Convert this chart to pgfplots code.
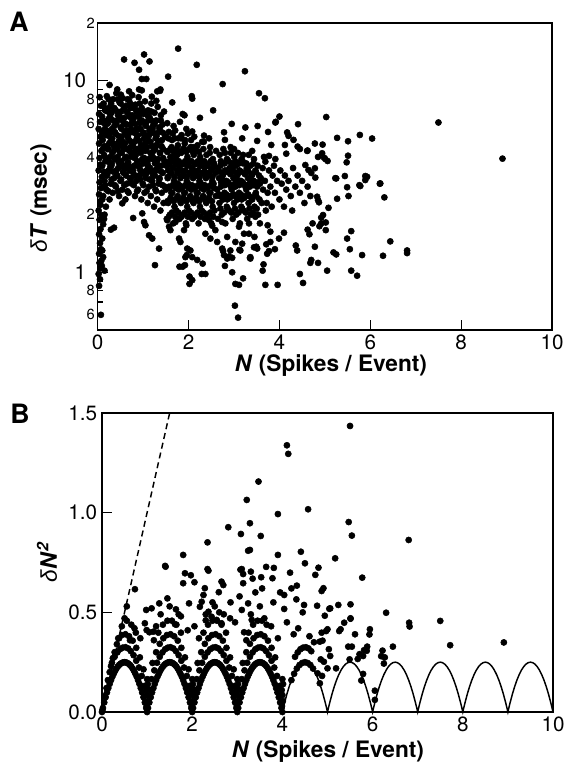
\documentclass[border=0pt]{standalone}
\usepackage{pgfplots}
\pgfplotsset{compat=1.18}
\usepackage{fontspec}
\setmainfont{TeX Gyre Heros}
\newfontfamily\grk{Liberation Sans}
\newcommand{\tickfont}{\fontsize{15.5}{18}\selectfont}
\newcommand{\smallfont}{\fontsize{11}{13}\selectfont}
\newcommand{\labfont}{\fontsize{17}{20}\selectfont\bfseries}
\pgfplotsset{
  common/.style={
    scale only axis, clip=false,
    axis line style={line width=1.1pt},
    tick style={line width=0.9pt, black},
    tick align=inside, tick pos=left,
    major tick length=7.5pt, minor tick length=3.75pt,
    tick label style={font=\tickfont},
    /pgf/number format/assume math mode=true,
  },
  dots/.style={only marks, mark=*, mark size=2.3pt, black},
}
\begin{document}
\begin{tikzpicture}
% ---------------- Panel A ----------------
\begin{axis}[common,
  at={(-3.2pt,286.5pt)}, anchor=south west,
  width=340.7pt, height=230.25pt,
  xmin=0, xmax=10, ymode=log, ymin=0.5, ymax=20,
  xtick={0,2,4,6,8,10}, xticklabels={0,2,4,6,8,10},
  ytick={1,10}, yticklabels={1,10},
  yticklabel style={inner sep=8.5pt},
  minor ytick={0.6,0.7,0.8,0.9,2,3,4,5,6,7,8,9},
  extra y ticks={0.6,0.8,2,4,6,8,20},
  extra y tick labels={6,8,2,4,6,8,2},
  extra y tick style={major tick length=3.75pt, yticklabel style={font=\smallfont, inner sep=2pt}},
]
\addplot[dots] coordinates {
(3.24,11.2)(2.75,9.6)(3.55,8.6)(3.68,8.1)(2.54,7.0)(5.03,6.46)(7.5,6.05)(8.91,3.92)(4.0,6.5)(3.92,6.1)(4.41,5.93)(2.95,5.95)(3.25,5.7)(3.52,5.8)(5.27,5.03)(5.51,4.83)(5.77,5.21)(6.04,4.99)(5.51,4.06)(5.48,3.75)(3.75,5.4)(4.17,5.37)(4.2,5.15)(4.31,4.91)(3.82,4.62)(4.12,4.62)(4.40,4.53)(4.45,4.4)(4.78,4.7)(4.95,4.64)(4.61,4.3)(4.85,4.0)(5.01,3.9)(5.23,3.1)(5.44,3.18)(5.76,2.85)(5.89,3.18)(6.21,2.9)(6.31,2.46)(5.52,2.5)(5.27,2.42)
(3.91,6.05)(3.51,4.85)(4.62,4.32)(4.15,4.16)(4.94,4.18)(4.98,3.97)(5.06,3.81)(3.69,3.78)(3.91,3.9)(3.77,4.05)(3.66,4.0)(4.78,3.49)(4.64,3.42)(4.57,3.63)(4.79,3.12)(5.25,3.09)(5.93,3.15)(5.89,3.03)(6.22,2.91)(5.78,2.82)(5.49,2.78)
(4.83,2.48)(4.85,2.38)(4.87,2.32)(5.08,2.17)(4.96,1.99)(4.92,1.93)(5.02,1.82)(4.92,1.8)(4.88,1.74)(4.73,1.8)(4.62,1.67)(4.66,1.58)(5.02,1.66)
(5.58,1.64)(5.49,1.5)(5.55,1.32)(5.82,1.23)(6.28,1.22)(6.44,1.45)(6.81,1.30)(6.81,1.26)
(5.19,1.27)(5.25,1.24)(4.68,1.12)(4.70,1.16)(4.85,1.12)(5.05,1.02)(5.58,1.02)(5.71,0.96)
(4.36,1.38)(4.39,1.30)(4.78,1.36)(4.45,0.98)(4.52,0.88)
(3.65,1.1)(3.63,1.02)(3.69,0.86)(3.96,0.86)
(3.49,1.36)(3.71,1.40)(3.73,1.25)(3.77,1.29)(3.9,1.32)(4.1,1.61)(3.99,1.50)
(3.36,1.20)(3.51,1.33)(3.45,1.53)(3.80,1.63)(3.80,1.44)(3.74,1.76)(3.57,1.80)(3.47,1.95)
(0.07,0.60)(1.26,1.09)(1.8,1.07)(1.87,1.07)(1.92,1.09)(2.02,0.95)(2.08,0.91)(2.02,0.87)(2.29,0.98)(2.37,0.98)(2.19,1.16)(2.31,1.11)(1.96,1.23)
(3.02,0.67)(3.09,0.58)(3.03,0.87)(3.11,0.86)(3.2,0.93)(2.8,1.08)(2.96,1.0)(2.76,1.29)(2.89,1.21)(2.96,1.19)(3.12,1.31)(3.35,1.19)(3.44,1.35)
(0.78,1.92)(0.98,2.03)(1.02,1.83)(1.05,1.76)(1.13,1.56)(1.2,1.5)(1.35,1.33)(0.29,1.67)(0.36,1.71)(0.54,2.29)
(1.53,1.87)(1.57,1.73)(1.6,1.66)(1.71,1.83)(1.79,1.50)(1.82,1.44)(1.9,1.66)(1.95,1.76)(1.97,1.33)(2.04,1.30)(2.08,1.20)(1.93,1.20)
(2.45,1.87)(2.52,1.75)(2.59,1.66)(2.37,1.59)(2.48,1.50)(2.63,1.44)(2.74,1.33)(2.78,1.23)(2.85,1.18)(2.92,1.30)(3.03,1.44)(3.14,1.30)(3.18,1.41)(3.33,1.59)(3.36,1.18)(3.22,1.59)(3.11,1.73)(3.33,1.80)(2.74,1.83)(2.85,1.53)
(1.77,14.7)(1.02,13.7)(1.14,12.6)(0.81,12.4)(0.91,11.4)(0.58,12.9)(2.18,12.1)
(0.97,10.2)(1.07,10.2)(1.55,10.5)(1.38,9.0)(1.31,8.8)(1.64,7.7)(2.07,8.3)(2.08,8.06)(2.25,6.4)(1.91,6.6)(1.87,6.7)
(2.78,5.38)(3.18,5.0)(2.8,4.91)(2.34,5.17)(2.08,5.43)
(0.26,9.5)(0.43,9.0)(0.51,8.45)(0.69,8.8)(0.91,9.0)(0.97,8.9)(1.19,8.25)(1.29,7.85)(1.37,8.85)
(0.15,1.02)(0.12,1.2)(0.08,1.15)
(0.03,0.85)(0.05,0.92)(0.02,0.98)(0.06,1.05)(0.04,1.12)(0.09,1.08)(0.03,1.25)(0.07,1.32)(0.05,1.42)(0.1,1.5)(0.03,1.58)(0.06,1.68)(0.12,1.78)(0.04,1.88)(0.08,1.98)(0.02,2.1)(0.06,2.25)(0.1,2.4)(0.03,2.55)(0.07,2.75)(0.04,2.95)(0.09,3.15)(0.02,3.4)(0.06,3.65)(0.04,3.95)(0.08,4.3)(0.03,4.7)(0.06,5.1)(0.02,5.6)(0.05,6.1)(0.03,6.7)(0.07,7.4)(0.04,8.2)(0.1,1.3)(0.14,1.9)(0.18,2.2)(0.15,2.0)
(0.12,2.5)(0.15,3.0)(0.10,3.6)(0.14,4.1)(0.11,4.9)(0.155,5.6)(0.095,6.5)(0.13,7.6)
(0.19,2.7)(0.22,3.3)(0.17,3.8)(0.21,4.5)(0.18,5.2)(0.225,6.0)(0.165,7.0)(0.20,8.3)
(0.26,2.4)(0.29,2.9)(0.24,3.4)(0.28,4.0)(0.25,4.7)(0.295,5.4)(0.235,6.3)(0.27,7.3)
(0.33,2.6)(0.36,3.1)(0.31,3.7)(0.35,4.3)(0.32,5.0)(0.365,5.8)(0.305,6.8)(0.34,8.0)
(0.40,2.8)(0.43,3.2)(0.38,3.9)(0.42,4.6)(0.39,5.3)(0.435,6.2)(0.375,7.1)(0.41,8.6)
(0.47,2.5)(0.50,3.0)(0.45,3.5)(0.49,4.2)(0.46,4.8)(0.505,5.7)(0.445,6.6)(0.48,7.7)
(0.54,2.7)(0.57,3.3)(0.52,3.8)(0.56,4.4)(0.53,5.1)(0.575,6.0)(0.515,6.9)(0.55,8.1)
(0.61,2.4)(0.64,2.9)(0.59,3.5)(0.63,4.0)(0.60,4.7)(0.645,5.5)(0.585,6.4)(0.62,7.4)
(0.68,2.6)(0.71,3.1)(0.66,3.7)(0.70,4.3)(0.67,5.0)(0.715,5.9)(0.655,6.8)(0.69,7.9)
(0.75,2.9)(0.78,3.4)(0.73,4.0)(0.77,4.6)(0.74,5.4)(0.785,6.3)(0.725,7.2)(0.76,8.4)
(0.82,2.5)(0.85,3.0)(0.80,3.6)(0.84,4.1)(0.81,4.8)(0.855,5.6)(0.795,6.5)(0.83,7.5)
(0.89,2.7)(0.92,3.2)(0.87,3.8)(0.91,4.4)(0.88,5.2)(0.925,6.0)(0.865,7.0)(0.90,8.2)
(0.96,2.4)(0.99,2.9)(0.94,3.4)(0.98,3.9)(0.95,4.6)(0.995,5.3)(0.935,6.2)(0.97,7.2)
(1.03,2.6)(1.06,3.1)(1.01,3.7)(1.05,4.3)(1.02,5.0)(1.065,5.8)(1.005,6.7)(1.04,7.8)
(1.10,2.3)(1.13,2.8)(1.08,3.3)(1.12,3.9)(1.09,4.5)(1.135,5.2)(1.075,6.1)(1.11,7.0)
(1.17,2.5)(1.20,3.0)(1.15,3.5)(1.19,4.1)(1.16,4.8)(1.205,5.6)(1.145,6.4)(1.18,7.6)
(1.24,2.2)(1.27,2.7)(1.22,3.2)(1.26,3.7)(1.23,4.3)(1.275,5.0)(1.215,5.8)(1.25,6.8)
(1.31,2.4)(1.34,2.9)(1.29,3.4)(1.33,3.9)(1.30,4.6)(1.345,5.4)(1.285,6.2)(1.32,7.3)
(1.38,2.1)(1.41,2.6)(1.36,3.1)(1.40,3.6)(1.37,4.2)(1.415,4.9)(1.355,5.7)(1.39,6.6)
(1.45,2.3)(1.48,2.8)(1.43,3.3)(1.47,3.8)(1.44,4.4)(1.485,5.1)(1.425,5.9)(1.46,6.9)
(0.16,3.3)(0.23,4.4)(0.3,3.6)(0.37,5.4)(0.44,4.0)(0.51,4.6)(0.58,3.6)(0.65,5.2)(0.72,4.5)(0.79,3.2)(0.86,5.0)(0.93,3.6)(1.0,4.4)(1.07,3.4)(1.14,5.5)(1.21,3.9)(1.28,4.6)(0.2,5.5)(0.27,6.8)(0.34,4.7)(0.41,3.4)(0.48,6.4)(0.55,4.8)(0.62,5.9)(0.69,3.4)(0.76,6.6)(0.83,4.3)(0.9,5.6)(0.97,6.8)(1.04,4.7)(1.11,3.6)(1.18,6.9)(1.25,3.4)(0.14,6.0)(0.09,5.4)(0.11,4.4)(0.08,3.6)(0.13,2.8)(0.06,2.35)(0.17,7.0)
(0.165,2.85)(0.135,3.35)(0.18,3.95)(0.145,4.55)(0.175,5.35)(0.13,6.2)(0.155,7.2)
(0.235,2.65)(0.205,3.2)(0.25,3.75)(0.215,4.4)(0.245,5.15)(0.2,5.95)(0.225,6.9)(0.24,8.0)
(0.305,3.05)(0.275,3.55)(0.32,4.2)(0.285,4.85)(0.315,5.6)(0.27,6.5)(0.295,7.6)
(0.375,2.85)(0.345,3.35)(0.39,3.95)(0.355,4.55)(0.385,5.35)(0.34,6.2)(0.365,7.2)
(0.445,2.65)(0.415,3.2)(0.46,3.75)(0.425,4.4)(0.455,5.15)(0.41,5.95)(0.435,6.9)(0.45,8.0)
(0.515,3.05)(0.485,3.55)(0.53,4.2)(0.495,4.85)(0.525,5.6)(0.48,6.5)(0.505,7.6)
(0.585,2.85)(0.555,3.35)(0.6,3.95)(0.565,4.55)(0.595,5.35)(0.55,6.2)(0.575,7.2)
(0.655,2.65)(0.625,3.2)(0.67,3.75)(0.635,4.4)(0.665,5.15)(0.62,5.95)(0.645,6.9)(0.66,8.0)
(0.725,3.05)(0.695,3.55)(0.74,4.2)(0.705,4.85)(0.735,5.6)(0.69,6.5)(0.715,7.6)
(0.795,2.85)(0.765,3.35)(0.81,3.95)(0.775,4.55)(0.805,5.35)(0.76,6.2)(0.785,7.2)
(0.865,2.65)(0.835,3.2)(0.88,3.75)(0.845,4.4)(0.875,5.15)(0.83,5.95)(0.855,6.9)
(0.935,3.05)(0.905,3.55)(0.95,4.2)(0.915,4.85)(0.945,5.6)(0.9,6.5)(0.925,7.6)
(1.005,2.85)(0.975,3.35)(1.02,3.95)(0.985,4.55)(1.015,5.35)(0.97,6.2)
(1.075,2.65)(1.045,3.2)(1.09,3.75)(1.055,4.4)(1.085,5.15)(1.04,5.95)(1.065,6.9)
(1.145,3.05)(1.115,3.55)(1.16,4.2)(1.125,4.85)(1.155,5.6)(1.11,6.5)
(1.215,2.85)(1.185,3.35)(1.23,3.95)(1.195,4.55)(1.225,5.35)(1.18,6.2)
(1.285,2.65)(1.255,3.2)(1.3,3.75)(1.265,4.4)(1.295,5.15)(1.25,5.95)
(1.355,3.05)(1.325,3.55)(1.37,4.2)(1.335,4.85)(1.365,5.6)
(1.425,2.85)(1.395,3.35)(1.44,3.95)(1.405,4.55)(1.435,5.35)(1.39,6.2)
(1.52,1.9)(1.55,2.3)(1.50,2.7)(1.54,3.1)(1.51,3.6)(1.555,4.3)(1.495,5.1)(1.53,6.0)
(1.59,2.0)(1.62,2.4)(1.57,2.8)(1.61,3.3)(1.58,3.8)(1.625,4.5)(1.565,5.4)
(1.66,1.8)(1.69,2.2)(1.64,2.6)(1.68,3.0)(1.65,3.5)(1.695,4.1)(1.635,4.9)(1.67,5.8)
(1.73,2.1)(1.76,2.5)(1.71,2.9)(1.75,3.4)(1.72,3.9)(1.765,4.6)(1.705,5.5)
(1.80,1.9)(1.83,2.3)(1.78,2.7)(1.82,3.1)(1.79,3.6)(1.835,4.2)(1.775,5.0)(1.81,6.1)
(1.87,2.0)(1.90,2.4)(1.85,2.8)(1.89,3.2)(1.86,3.7)(1.905,4.4)(1.845,5.2)
(1.94,1.8)(1.97,2.2)(1.92,2.6)(1.96,3.0)(1.93,3.4)(1.975,4.0)(1.915,4.7)(1.95,5.6)
(2.01,2.1)(2.04,2.5)(1.99,2.9)(2.03,3.3)(2.00,3.8)(2.045,4.5)(1.985,5.3)
(2.08,1.9)(2.11,2.3)(2.06,2.7)(2.10,3.1)(2.07,3.5)(2.115,4.1)(2.055,4.9)
(2.15,2.0)(2.18,2.4)(2.13,2.8)(2.17,3.2)(2.14,3.7)(2.185,4.3)(2.125,5.1)
(2.22,1.8)(2.25,2.2)(2.20,2.6)(2.24,3.0)(2.21,3.4)(2.255,4.0)(2.195,4.6)
(2.29,2.1)(2.32,2.5)(2.27,2.9)(2.31,3.3)(2.28,3.8)(2.325,4.4)
(2.36,1.9)(2.39,2.3)(2.34,2.7)(2.38,3.1)(2.35,3.5)(2.395,4.1)(2.335,4.8)
(2.43,2.0)(2.46,2.4)(2.41,2.8)(2.45,3.2)(2.42,3.6)(2.465,4.2)
(2.50,1.8)(2.53,2.2)(2.48,2.6)(2.52,3.0)(2.49,3.4)(2.535,3.9)(2.475,4.5)
(2.57,2.1)(2.60,2.5)(2.55,2.9)(2.59,3.3)(2.56,3.7)(2.605,4.3)
(1.55,3.4)(1.62,2.6)(1.69,3.8)(1.76,2.9)(1.83,3.4)(1.9,2.6)(1.97,3.6)(2.04,2.8)(2.11,3.4)(2.18,2.6)(2.25,3.6)(2.32,2.8)(2.39,3.3)(2.46,2.6)(2.53,3.5)(1.6,4.0)(1.75,4.1)(1.92,4.9)(2.1,4.5)(2.3,4.8)(2.45,5.0)(1.65,5.3)
(1.565,1.95)(1.535,2.35)(1.58,2.75)(1.545,3.15)(1.575,3.65)(1.53,4.25)(1.555,5.0)
(1.635,2.05)(1.605,2.45)(1.65,2.85)(1.615,3.3)(1.645,3.8)(1.6,4.4)
(1.705,1.95)(1.675,2.35)(1.72,2.75)(1.685,3.15)(1.715,3.65)(1.67,4.25)(1.695,5.0)
(1.775,2.05)(1.745,2.45)(1.79,2.85)(1.755,3.3)(1.785,3.8)(1.74,4.4)
(1.845,1.95)(1.815,2.35)(1.86,2.75)(1.825,3.15)(1.855,3.65)(1.81,4.25)(1.835,5.0)
(1.915,2.05)(1.885,2.45)(1.93,2.85)(1.895,3.3)(1.925,3.8)(1.88,4.4)
(1.985,1.95)(1.955,2.35)(2.0,2.75)(1.965,3.15)(1.995,3.65)(1.95,4.25)
(2.055,2.05)(2.025,2.45)(2.07,2.85)(2.035,3.3)(2.065,3.8)(2.02,4.4)
(2.125,1.95)(2.095,2.35)(2.14,2.75)(2.105,3.15)(2.135,3.65)(2.09,4.25)
(2.195,2.05)(2.165,2.45)(2.21,2.85)(2.175,3.3)(2.205,3.8)
(2.265,1.95)(2.235,2.35)(2.28,2.75)(2.245,3.15)(2.275,3.65)(2.23,4.25)
(2.335,2.05)(2.305,2.45)(2.35,2.85)(2.315,3.3)(2.345,3.8)
(2.405,1.95)(2.375,2.35)(2.42,2.75)(2.385,3.15)(2.415,3.65)
(2.475,2.05)(2.445,2.45)(2.49,2.85)(2.455,3.3)(2.485,3.8)
(2.545,1.95)(2.515,2.35)(2.56,2.75)(2.525,3.15)(2.555,3.65)
(2.65,1.9)(2.68,2.3)(2.63,2.7)(2.67,3.1)(2.64,3.5)(2.685,4.1)
(2.73,2.0)(2.76,2.4)(2.71,2.8)(2.75,3.2)(2.72,3.7)(2.765,4.4)
(2.81,1.8)(2.84,2.2)(2.79,2.6)(2.83,3.0)(2.80,3.4)(2.845,3.9)
(2.89,2.1)(2.92,2.5)(2.87,2.9)(2.91,3.3)(2.88,3.8)(2.925,4.5)
(2.97,1.9)(3.00,2.3)(2.95,2.7)(2.99,3.1)(2.96,3.5)(3.005,4.0)
(3.05,2.0)(3.08,2.4)(3.03,2.8)(3.07,3.2)(3.04,3.6)(3.085,4.2)
(3.13,1.8)(3.16,2.2)(3.11,2.6)(3.15,3.0)(3.12,3.4)(3.165,3.9)
(3.21,2.1)(3.24,2.5)(3.19,2.9)(3.23,3.3)(3.20,3.7)
(3.29,1.9)(3.32,2.3)(3.27,2.7)(3.31,3.1)(3.28,3.5)(3.325,4.1)
(3.37,2.0)(3.40,2.4)(3.35,2.8)(3.39,3.2)(3.36,3.6)
(3.45,2.2)(3.48,2.6)(3.43,3.0)(3.47,3.4)(3.44,3.9)
(3.53,2.0)(3.56,2.4)(3.51,2.8)(3.55,3.2)(3.52,3.6)
(3.61,2.3)(3.64,2.7)(3.59,3.1)(3.63,3.5)
(2.69,2.5)(2.77,3.0)(2.85,2.4)(2.93,2.8)(3.01,2.5)(3.09,3.0)(3.17,2.4)(3.25,2.8)(3.33,2.5)(3.41,3.0)(3.49,2.5)(3.57,2.9)(2.7,3.6)(2.9,3.5)(3.1,3.7)(3.3,3.4)(2.8,4.2)(3.0,4.4)(3.2,4.1)(3.4,4.3)
(2.70,2.15)(2.67,2.55)(2.715,2.95)(2.68,3.35)(2.71,3.8)
(2.78,2.05)(2.75,2.45)(2.795,2.85)(2.76,3.25)(2.79,3.7)
(2.86,2.15)(2.83,2.55)(2.875,2.95)(2.84,3.35)(2.87,3.8)
(2.94,2.05)(2.91,2.45)(2.955,2.85)(2.92,3.25)(2.95,3.7)(2.93,4.2)
(3.02,2.15)(2.99,2.55)(3.035,2.95)(3.0,3.35)(3.03,3.8)
(3.10,2.05)(3.07,2.45)(3.115,2.85)(3.08,3.25)(3.11,3.7)
(3.18,2.15)(3.15,2.55)(3.195,2.95)(3.16,3.35)(3.19,3.8)
(3.26,2.05)(3.23,2.45)(3.275,2.85)(3.24,3.25)(3.27,3.7)
(3.34,2.15)(3.31,2.55)(3.355,2.95)(3.32,3.35)
(3.42,2.05)(3.39,2.45)(3.435,2.85)(3.40,3.25)(3.43,3.7)
(3.50,2.15)(3.47,2.55)(3.515,2.95)(3.48,3.35)
(3.70,2.1)(3.74,2.6)(3.68,3.0)(3.77,3.4)(3.72,2.3)(3.80,2.8)(3.85,3.2)(3.83,2.2)(3.90,2.6)(3.95,3.0)(3.88,3.6)(4.00,2.4)(4.05,2.9)(4.02,3.4)(4.10,2.2)(4.15,2.7)(4.12,3.2)(4.20,3.0)(4.25,2.5)(4.30,3.5)(4.35,2.8)(4.28,2.1)(4.40,3.2)(4.45,2.6)(4.50,3.0)(4.55,2.3)(4.62,2.8)(4.70,3.3)(4.68,2.5)
};
\end{axis}
% ---------------- Panel B ----------------
\begin{axis}[common,
  at={(0pt,0pt)}, anchor=south west,
  width=338.25pt, height=224.25pt,
  xmin=0, xmax=10, ymin=0, ymax=1.5,
  xtick={0,2,4,6,8,10}, xticklabels={0,2,4,6,8,10},
  xtick style={draw=none},
  ytick={0,0.5,1,1.5}, yticklabels={0.0,0.5,1.0,1.5},
  yticklabel style={inner sep=3.5pt},
]
\addplot[black, line width=1.1pt, dash pattern=on 4.5pt off 3pt] coordinates {(0,0)(1.5,1.5)};
\addplot[black, line width=1.1pt] coordinates {
(0,0)(0.02,0.0196)(0.05,0.0475)(0.1,0.09)(0.15,0.1275)(0.2,0.16)(0.25,0.1875)(0.3,0.21)(0.35,0.2275)(0.4,0.24)(0.45,0.2475)(0.5,0.25)(0.55,0.2475)(0.6,0.24)(0.65,0.2275)(0.7,0.21)(0.75,0.1875)(0.8,0.16)(0.85,0.1275)(0.9,0.09)(0.95,0.0475)(0.98,0.0196)
(1,0)(1.02,0.0196)(1.05,0.0475)(1.1,0.09)(1.15,0.1275)(1.2,0.16)(1.25,0.1875)(1.3,0.21)(1.35,0.2275)(1.4,0.24)(1.45,0.2475)(1.5,0.25)(1.55,0.2475)(1.6,0.24)(1.65,0.2275)(1.7,0.21)(1.75,0.1875)(1.8,0.16)(1.85,0.1275)(1.9,0.09)(1.95,0.0475)(1.98,0.0196)
(2,0)(2.02,0.0196)(2.05,0.0475)(2.1,0.09)(2.15,0.1275)(2.2,0.16)(2.25,0.1875)(2.3,0.21)(2.35,0.2275)(2.4,0.24)(2.45,0.2475)(2.5,0.25)(2.55,0.2475)(2.6,0.24)(2.65,0.2275)(2.7,0.21)(2.75,0.1875)(2.8,0.16)(2.85,0.1275)(2.9,0.09)(2.95,0.0475)(2.98,0.0196)
(3,0)(3.02,0.0196)(3.05,0.0475)(3.1,0.09)(3.15,0.1275)(3.2,0.16)(3.25,0.1875)(3.3,0.21)(3.35,0.2275)(3.4,0.24)(3.45,0.2475)(3.5,0.25)(3.55,0.2475)(3.6,0.24)(3.65,0.2275)(3.7,0.21)(3.75,0.1875)(3.8,0.16)(3.85,0.1275)(3.9,0.09)(3.95,0.0475)(3.98,0.0196)
(4,0)(4.02,0.0196)(4.05,0.0475)(4.1,0.09)(4.15,0.1275)(4.2,0.16)(4.25,0.1875)(4.3,0.21)(4.35,0.2275)(4.4,0.24)(4.45,0.2475)(4.5,0.25)(4.55,0.2475)(4.6,0.24)(4.65,0.2275)(4.7,0.21)(4.75,0.1875)(4.8,0.16)(4.85,0.1275)(4.9,0.09)(4.95,0.0475)(4.98,0.0196)
(5,0)(5.02,0.0196)(5.05,0.0475)(5.1,0.09)(5.15,0.1275)(5.2,0.16)(5.25,0.1875)(5.3,0.21)(5.35,0.2275)(5.4,0.24)(5.45,0.2475)(5.5,0.25)(5.55,0.2475)(5.6,0.24)(5.65,0.2275)(5.7,0.21)(5.75,0.1875)(5.8,0.16)(5.85,0.1275)(5.9,0.09)(5.95,0.0475)(5.98,0.0196)
(6,0)(6.02,0.0196)(6.05,0.0475)(6.1,0.09)(6.15,0.1275)(6.2,0.16)(6.25,0.1875)(6.3,0.21)(6.35,0.2275)(6.4,0.24)(6.45,0.2475)(6.5,0.25)(6.55,0.2475)(6.6,0.24)(6.65,0.2275)(6.7,0.21)(6.75,0.1875)(6.8,0.16)(6.85,0.1275)(6.9,0.09)(6.95,0.0475)(6.98,0.0196)
(7,0)(7.02,0.0196)(7.05,0.0475)(7.1,0.09)(7.15,0.1275)(7.2,0.16)(7.25,0.1875)(7.3,0.21)(7.35,0.2275)(7.4,0.24)(7.45,0.2475)(7.5,0.25)(7.55,0.2475)(7.6,0.24)(7.65,0.2275)(7.7,0.21)(7.75,0.1875)(7.8,0.16)(7.85,0.1275)(7.9,0.09)(7.95,0.0475)(7.98,0.0196)
(8,0)(8.02,0.0196)(8.05,0.0475)(8.1,0.09)(8.15,0.1275)(8.2,0.16)(8.25,0.1875)(8.3,0.21)(8.35,0.2275)(8.4,0.24)(8.45,0.2475)(8.5,0.25)(8.55,0.2475)(8.6,0.24)(8.65,0.2275)(8.7,0.21)(8.75,0.1875)(8.8,0.16)(8.85,0.1275)(8.9,0.09)(8.95,0.0475)(8.98,0.0196)
(9,0)(9.02,0.0196)(9.05,0.0475)(9.1,0.09)(9.15,0.1275)(9.2,0.16)(9.25,0.1875)(9.3,0.21)(9.35,0.2275)(9.4,0.24)(9.45,0.2475)(9.5,0.25)(9.55,0.2475)(9.6,0.24)(9.65,0.2275)(9.7,0.21)(9.75,0.1875)(9.8,0.16)(9.85,0.1275)(9.9,0.09)(9.95,0.0475)(9.98,0.0196)
(10,0)
};
\addplot[dots] coordinates {
(0.02,0.02)(0.05,0.048)(0.08,0.074)(0.11,0.098)(0.14,0.12)(0.17,0.141)(0.2,0.16)(0.23,0.177)(0.26,0.192)(0.29,0.206)(0.32,0.218)(0.35,0.228)(0.38,0.236)(0.41,0.242)(0.44,0.246)(0.47,0.249)(0.5,0.25)(0.53,0.249)(0.56,0.246)(0.59,0.242)(0.62,0.236)(0.65,0.228)(0.68,0.218)(0.71,0.206)(0.74,0.192)(0.77,0.177)(0.8,0.16)(0.83,0.141)(0.86,0.12)(0.89,0.098)(0.92,0.074)(0.95,0.048)(0.98,0.02)
(1.02,0.02)(1.05,0.048)(1.08,0.074)(1.11,0.098)(1.14,0.12)(1.17,0.141)(1.2,0.16)(1.23,0.177)(1.26,0.192)(1.29,0.206)(1.32,0.218)(1.35,0.228)(1.38,0.236)(1.41,0.242)(1.44,0.246)(1.47,0.249)(1.5,0.25)(1.53,0.249)(1.56,0.246)(1.59,0.242)(1.62,0.236)(1.65,0.228)(1.68,0.218)(1.71,0.206)(1.74,0.192)(1.77,0.177)(1.8,0.16)(1.83,0.141)(1.86,0.12)(1.89,0.098)(1.92,0.074)(1.95,0.048)(1.98,0.02)
(2.02,0.02)(2.05,0.048)(2.08,0.074)(2.11,0.098)(2.14,0.12)(2.17,0.141)(2.2,0.16)(2.23,0.177)(2.26,0.192)(2.29,0.206)(2.32,0.218)(2.35,0.228)(2.38,0.236)(2.41,0.242)(2.44,0.246)(2.47,0.249)(2.5,0.25)(2.53,0.249)(2.56,0.246)(2.59,0.242)(2.62,0.236)(2.65,0.228)(2.68,0.218)(2.71,0.206)(2.74,0.192)(2.77,0.177)(2.8,0.16)(2.83,0.141)(2.86,0.12)(2.89,0.098)(2.92,0.074)(2.95,0.048)(2.98,0.02)
(3.02,0.02)(3.05,0.048)(3.08,0.074)(3.11,0.098)(3.14,0.12)(3.17,0.141)(3.2,0.16)(3.23,0.177)(3.26,0.192)(3.29,0.206)(3.32,0.218)(3.35,0.228)(3.38,0.236)(3.41,0.242)(3.44,0.246)(3.47,0.249)(3.5,0.25)(3.53,0.249)(3.56,0.246)(3.59,0.242)(3.62,0.236)(3.65,0.228)(3.68,0.218)(3.71,0.206)(3.74,0.192)(3.77,0.177)(3.8,0.16)(3.83,0.141)(3.86,0.12)(3.89,0.098)(3.92,0.074)(3.95,0.048)(3.98,0.02)
(4.2,0.16)(4.26,0.192)(4.32,0.218)(4.38,0.236)(4.44,0.246)(4.5,0.25)(4.56,0.246)(4.62,0.236)(4.68,0.218)
(0.22,0.247)(0.28,0.277)(0.34,0.299)(0.4,0.315)(0.46,0.323)(0.52,0.325)(0.58,0.319)(0.64,0.305)(0.7,0.285)(0.76,0.257)(0.82,0.223)(0.88,0.181)(0.94,0.131)
(1.04,0.113)(1.1,0.165)(1.16,0.209)(1.22,0.247)(1.28,0.277)(1.34,0.299)(1.4,0.315)(1.46,0.323)(1.52,0.325)(1.58,0.319)(1.64,0.305)(1.7,0.285)(1.76,0.257)(1.82,0.223)(1.88,0.181)(1.94,0.131)
(2.04,0.113)(2.1,0.165)(2.16,0.209)(2.22,0.247)(2.28,0.277)(2.34,0.299)(2.4,0.315)(2.46,0.323)(2.52,0.325)(2.58,0.319)(2.64,0.305)(2.7,0.285)(2.76,0.257)(2.82,0.223)(2.88,0.181)(2.94,0.131)
(3.04,0.113)(3.1,0.165)(3.16,0.209)(3.22,0.247)(3.28,0.277)(3.34,0.299)(3.4,0.315)(3.46,0.323)(3.52,0.325)(3.58,0.319)(3.64,0.305)(3.7,0.285)(3.76,0.257)(3.82,0.223)(3.88,0.181)(3.94,0.131)
(4.28,0.277)(4.34,0.299)(4.4,0.315)(4.46,0.323)(4.52,0.325)(4.58,0.319)(4.64,0.305)
(0.36,0.37)(0.44,0.386)(0.52,0.39)(0.6,0.38)(0.68,0.358)(0.76,0.322)(0.84,0.274)(0.92,0.214)
(1.12,0.246)(1.2,0.3)(1.28,0.342)(1.36,0.37)(1.44,0.386)(1.52,0.39)(1.6,0.38)(1.68,0.358)(1.76,0.322)(1.84,0.274)(1.92,0.214)
(2.12,0.246)(2.2,0.3)(2.28,0.342)(2.36,0.37)(2.44,0.386)(2.52,0.39)(2.6,0.38)(2.68,0.358)(2.76,0.322)(2.84,0.274)(2.92,0.214)
(3.12,0.246)(3.2,0.3)(3.28,0.342)(3.36,0.37)(3.44,0.386)(3.52,0.39)(3.6,0.38)(3.68,0.358)(3.76,0.322)(3.84,0.274)
(0.55,0.458)(0.65,0.438)(0.75,0.398)
(1.25,0.398)(1.35,0.438)(1.45,0.458)(1.55,0.458)(1.65,0.438)(1.75,0.398)
(2.25,0.398)(2.35,0.438)(2.45,0.458)(2.55,0.458)(2.65,0.438)(2.75,0.398)
(3.25,0.398)(3.35,0.438)(3.45,0.458)(3.55,0.458)(3.65,0.438)
(1.3,0.49)(1.5,0.53)(1.7,0.49)(2.3,0.49)(2.5,0.53)(2.7,0.49)(3.3,0.49)(3.5,0.53)
(0,0)(0.01,0.01)
(1,0.0)(0.99,0.03)(1.01,0.055)(1,0.085)(0.985,0.11)(1.015,0.14)(1,0.165)
(2,0.0)(1.99,0.03)(2.01,0.055)(2,0.085)(1.985,0.11)(2.015,0.14)(2,0.165)
(3,0.0)(2.99,0.03)(3.01,0.055)(3,0.085)(2.985,0.11)(3.015,0.14)(3,0.165)
(4,0.0)(3.99,0.03)(4.01,0.055)(4,0.085)(3.985,0.11)(4.015,0.14)(4,0.165)
(0.06,0.08)(0.1,0.12)(0.13,0.16)(0.17,0.2)(0.2,0.23)(0.24,0.27)(0.28,0.3)(0.33,0.34)(0.38,0.37)(0.44,0.43)(0.5,0.47)(0.55,0.53)(0.73,0.616)
(5.5,1.435)(4.10,1.338)(4.13,1.295)(3.47,1.156)(4.57,1.017)(3.90,0.993)(5.47,0.953)(5.54,0.885)(6.80,0.863)(3.52,0.883)(3.28,0.947)
(4.41,0.804)(4.50,0.746)(4.80,0.724)(4.73,0.688)(5.17,0.771)(3.90,0.788)(3.64,0.728)(3.81,0.723)(3.78,0.671)(4.17,0.699)(3.53,0.676)(3.28,0.813)(5.77,0.674)
(4.91,0.621)(4.87,0.607)(4.32,0.634)(4.04,0.587)(4.04,0.517)(4.48,0.537)(4.31,0.565)(5.24,0.537)(5.04,0.518)(4.77,0.533)(5.51,0.540)(5.51,0.468)
(6.30,0.498)(6.81,0.448)(5.94,0.415)(6.45,0.328)(6.22,0.308)(6.27,0.274)
(5.81,0.310)(5.88,0.328)(5.71,0.290)(5.46,0.328)(5.54,0.328)(5.49,0.264)
(5.61,0.390)(5.26,0.406)(5.29,0.415)(5.37,0.448)(5.51,0.470)(5.06,0.520)(4.94,0.483)(5.0,0.415)(4.97,0.406)(4.87,0.398)(4.83,0.353)(4.89,0.358)
(5.79,0.191)(6.05,0.107)
(5.03,0.315)(5.06,0.281)(4.92,0.252)(4.85,0.264)(5.0,0.219)(5.19,0.219)(4.83,0.144)(4.88,0.181)(4.78,0.194)
(1.40,0.733)(1.84,0.696)(1.97,0.686)(1.80,0.646)(2.05,0.651)(2.36,0.709)
(3.07,0.714)(3.13,0.692)(3.30,0.704)(3.34,0.669)(3.13,0.646)(2.65,0.654)(2.69,0.637)(2.59,0.601)(2.28,0.621)(2.25,0.587)(2.21,0.553)
(1.27,0.545)(0.98,0.512)(1.64,0.515)(1.93,0.545)(2.17,0.528)(2.36,0.503)(2.43,0.478)(2.54,0.462)(2.65,0.445)(2.84,0.470)(3.10,0.512)(3.24,0.545)(3.32,0.462)
(0.72,0.42)(0.95,0.445)(0.99,0.411)(1.14,0.403)
(3.21,1.064)(2.80,0.927)(3.08,0.893)(2.34,0.851)(1.80,0.788)(3.24,0.809)(1.41,0.729)(2.34,0.717)(3.10,0.717)
(7.5,0.457)(7.72,0.335)(8.91,0.349)(6.82,0.429)(5.93,0.389)(6.19,0.28)(6.25,0.243)(6.05,0.061)(5.75,0.158)(5.79,0.281)(5.87,0.307)(5.67,0.266)
(0.62,0.36)(0.85,0.37)(1.05,0.4)(1.2,0.43)(1.62,0.44)(1.75,0.48)(2.05,0.43)(2.3,0.46)(2.95,0.45)(3.15,0.4)(3.6,0.47)(3.75,0.43)(3.9,0.37)(4.1,0.45)(4.25,0.39)(4.35,0.42)(4.6,0.38)(4.7,0.35)(1.15,0.36)(2.15,0.37)(3.2,0.36)(1.9,0.41)(2.85,0.55)(3.05,0.58)(3.4,0.6)(3.55,0.62)(2.6,0.5)(2.45,0.55)(1.45,0.57)(1.1,0.52)(3.8,0.55)(4.45,0.5)(4.2,0.62)(3.95,0.6)
};
\end{axis}
% labels
\node[font=\labfont] at (171.75pt,259.5pt) {\textit{N} (Spikes / Event)};
\node[font=\labfont] at (169.5pt,-30pt) {\textit{N} (Spikes / Event)};
\node[font=\labfont, rotate=90] at (-45.75pt,385.5pt) {{\grk\mdseries\itshape δ}\textit{T} (msec)};
\node[font=\labfont, rotate=90] at (-41.25pt,112.5pt) {{\grk\mdseries\itshape δ}\textit{N}\textsuperscript{\textit{2}}};
\node[font=\fontsize{20}{24}\selectfont\bfseries] at (-62.25pt,517.5pt) {A};
\node[font=\fontsize{20}{24}\selectfont\bfseries] at (-61.5pt,223.9pt) {B};
\pgfresetboundingbox
\path (-76.5pt,-45pt) rectangle (350.25pt,534pt);
\end{tikzpicture}
\end{document}
